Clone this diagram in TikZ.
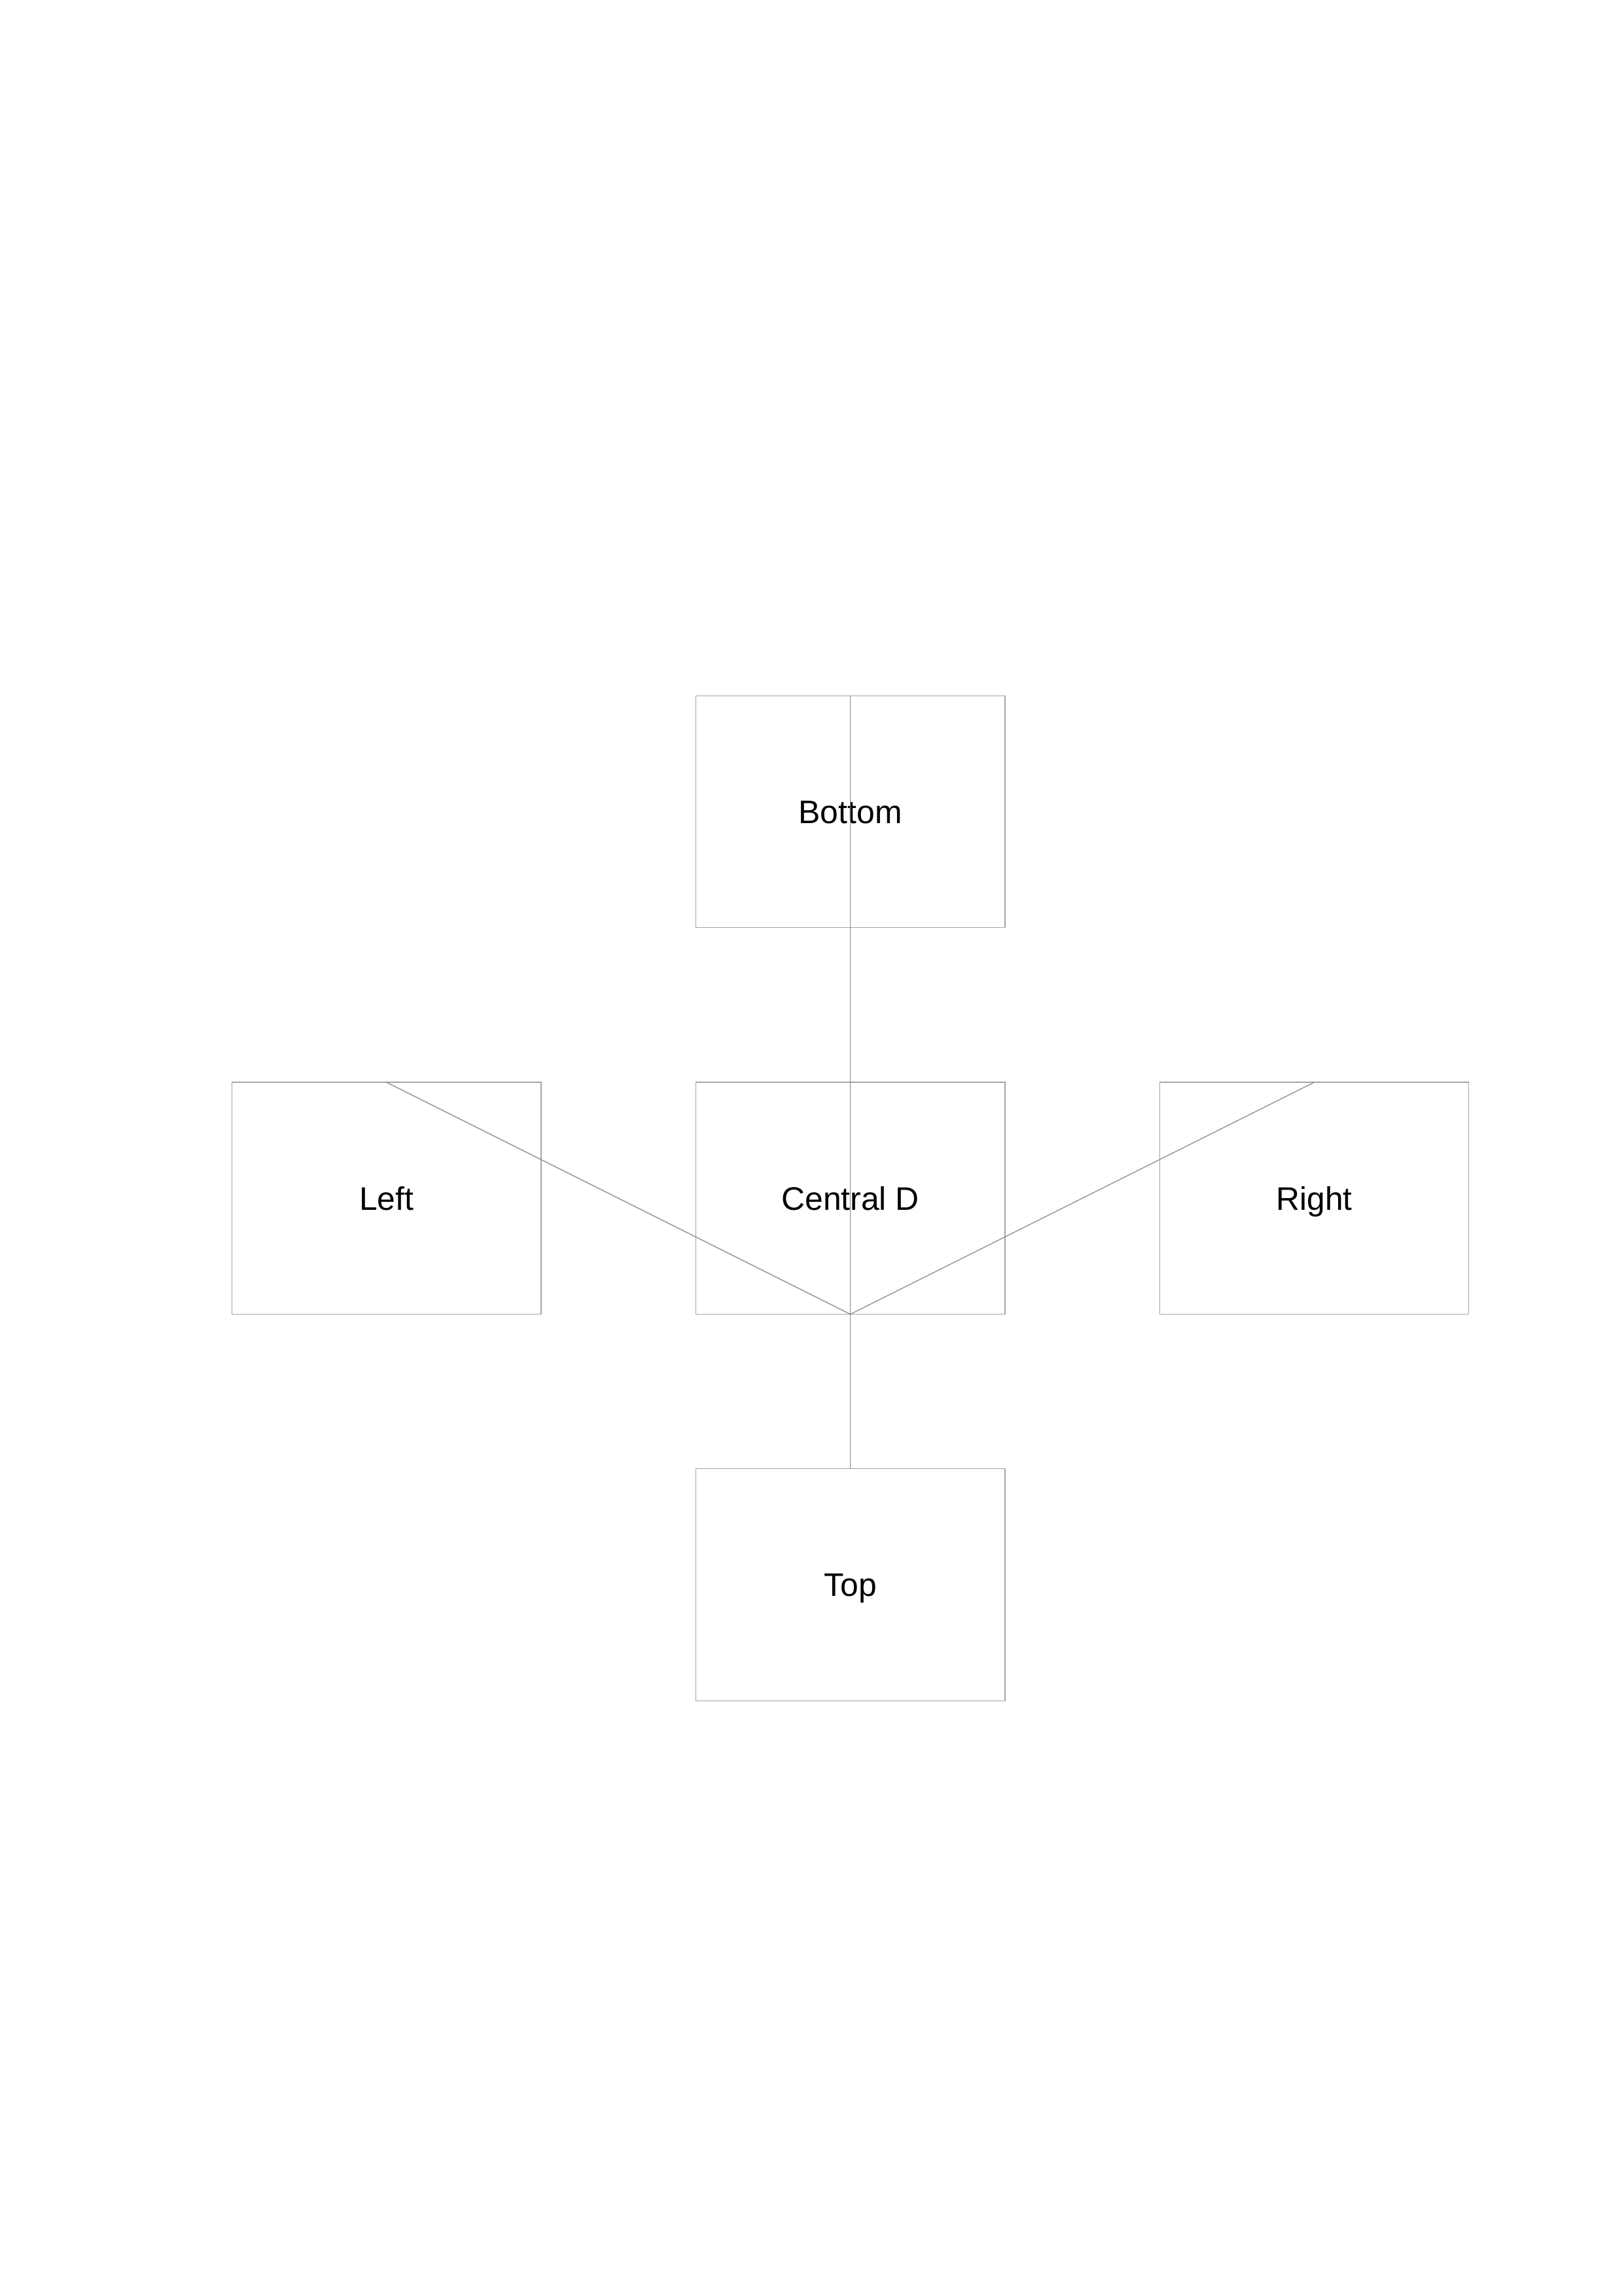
\documentclass[tikz,border=0pt]{standalone}
\usepackage{fontspec}
\setmainfont{Liberation Sans}
\definecolor{boxline}{RGB}{165,165,165}
\definecolor{linkline}{RGB}{135,135,135}
\begin{document}
\begin{tikzpicture}[
  panel/.style={draw=boxline, line width=0.3pt, minimum width=4cm, minimum height=3cm,
                inner sep=0pt, outer sep=0pt, text height=8.6pt, text depth=0pt,
                font=\fontsize{12}{14}\selectfont},
  link/.style={draw=linkline, line width=0.3pt}
]
  % A4 page frame
  \useasboundingbox (0,0) rectangle (21,-29.7);

  \node[panel] (bottom)  at (11,-10.5) {Bottom};
  \node[panel] (central) at (11,-15.5) {Central D};
  \node[panel] (left)    at (5,-15.5)  {Left};
  \node[panel] (right)   at (17,-15.5) {Right};
  \node[panel] (top)     at (11,-20.5) {Top};

  \draw[link] (bottom.north) -- (top.north);
  \draw[link] (left.north) -- (central.south);
  \draw[link] (right.north) -- (central.south);
\end{tikzpicture}
\end{document}
